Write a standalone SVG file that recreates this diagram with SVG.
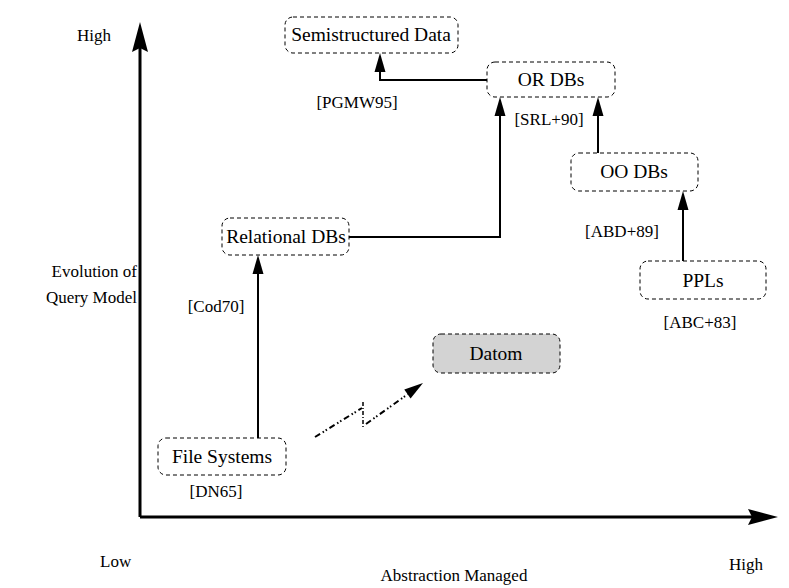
<svg xmlns="http://www.w3.org/2000/svg" width="789" height="588" viewBox="0 0 789 588">
  <style>
    text { font-family: "Liberation Serif", "Times New Roman", serif; fill: #000; }
    .node rect { fill: #fff; stroke: #000; stroke-width: 1; stroke-dasharray: 4 3; }
    .node.shaded rect { fill: #d3d3d3; }
    .node text { font-size: 19.5px; text-anchor: middle; }
    .ref { font-size: 17px; text-anchor: middle; }
    .axis-label { font-size: 17px; }
    .edge { fill: none; stroke: #000; stroke-width: 2; }
    .axis { fill: none; stroke: #000; stroke-width: 3; }
  </style>
  <defs>
    <!-- filled head, tip at the origin, pointing along +x -->
    <path id="head" d="M0,0 L-19,-5.5 L-19,5.5 Z" fill="#000"/>
    <!-- long narrow head for the two axes, tip at the origin -->
    <path id="axis-head" d="M0,0 L-30,-8 L-26,0 L-30,8 Z" fill="#000"/>
  </defs>

  <!-- axes -->
  <g id="axes">
    <line class="axis" x1="140" y1="517" x2="140" y2="40"/>
    <line class="axis" x1="140" y1="517" x2="760" y2="517"/>
    <use href="#axis-head" transform="translate(140,22) rotate(-90)"/>
    <use href="#axis-head" transform="translate(778,517)"/>
    <text class="axis-label" x="77" y="41">High</text>
    <text class="axis-label" x="100" y="567">Low</text>
    <text class="axis-label" x="729" y="570">High</text>
    <text class="axis-label" x="454" y="581" text-anchor="middle">Abstraction Managed</text>
    <text class="axis-label" x="137" y="277" text-anchor="end">Evolution of</text>
    <text class="axis-label" x="137" y="303" text-anchor="end">Query Model</text>
  </g>

  <!-- connectors -->
  <g id="connectors">
    <path class="edge" d="M258,438 L258,270"/>
    <use href="#head" transform="translate(258,255) rotate(-90)"/>
    <path class="edge" d="M349,237 L500,237 L500,112"/>
    <use href="#head" transform="translate(500,97) rotate(-90)"/>
    <path class="edge" d="M487,80 L380,80 L380,68"/>
    <use href="#head" transform="translate(380,53) rotate(-90)"/>
    <path class="edge" d="M683,261 L683,206"/>
    <use href="#head" transform="translate(683,191) rotate(-90)"/>
    <path class="edge" d="M598,153 L598,112"/>
    <use href="#head" transform="translate(598,97) rotate(-90)"/>
    <!-- broken dash-dot link towards Datom -->
    <path class="edge" d="M315,437 L362,408" stroke-dasharray="6 3 1.5 2 1.5 3"/>
    <path d="M363,402 L363,428" fill="none" stroke="#000" stroke-width="1.5" stroke-dasharray="4 2 1 2"/>
    <path class="edge" d="M366,424 L408,394" stroke-dasharray="6 3 1.5 2 1.5 3"/>
    <use href="#head" transform="translate(423,383) rotate(-35)"/>
  </g>

  <!-- nodes -->
  <g id="semistructured" class="node">
    <rect x="285" y="17" width="173" height="36" rx="8"/>
    <text x="371" y="41">Semistructured Data</text>
  </g>
  <g id="or-dbs" class="node">
    <rect x="487" y="62" width="128" height="35" rx="8"/>
    <text x="551" y="86">OR DBs</text>
  </g>
  <g id="oo-dbs" class="node">
    <rect x="571" y="153" width="127" height="38" rx="8"/>
    <text x="634" y="178">OO DBs</text>
  </g>
  <g id="relational-dbs" class="node">
    <rect x="222" y="218" width="127" height="37" rx="8"/>
    <text x="286" y="243">Relational DBs</text>
  </g>
  <g id="ppls" class="node">
    <rect x="640" y="261" width="126" height="38" rx="8"/>
    <text x="703" y="287">PPLs</text>
  </g>
  <g id="datom" class="node shaded">
    <rect x="433" y="334" width="127" height="39" rx="8"/>
    <text x="496" y="360">Datom</text>
  </g>
  <g id="file-systems" class="node">
    <rect x="158" y="438" width="128" height="37" rx="8"/>
    <text x="222" y="463">File Systems</text>
  </g>

  <!-- citation labels -->
  <g id="citations">
    <text class="ref" x="357" y="108">[PGMW95]</text>
    <text class="ref" x="549" y="125">[SRL+90]</text>
    <text class="ref" x="216" y="312">[Cod70]</text>
    <text class="ref" x="216" y="497">[DN65]</text>
    <text class="ref" x="622" y="237">[ABD+89]</text>
    <text class="ref" x="700" y="328">[ABC+83]</text>
  </g>
</svg>
